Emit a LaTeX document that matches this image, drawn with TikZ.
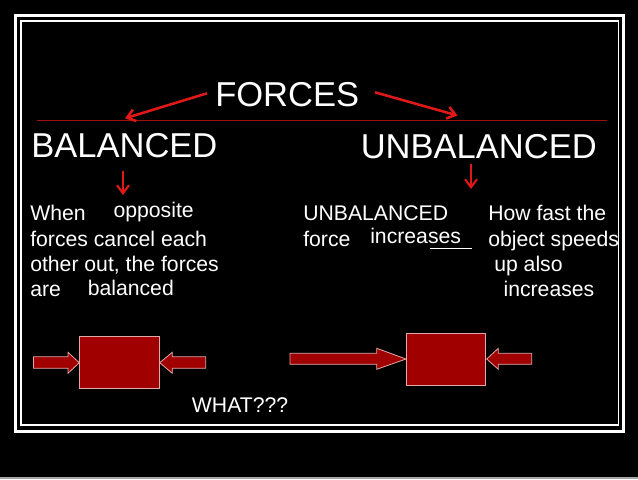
\documentclass[tikz,border=0pt]{standalone}
\usepackage{fontspec}
\setmainfont{Liberation Sans}
\usetikzlibrary{arrows.meta}
\definecolor{arrred}{HTML}{E01818}
\definecolor{linered}{HTML}{A01010}
\definecolor{blockred}{HTML}{A00000}
\definecolor{blockedge}{HTML}{E0A8A8}
\begin{document}
\begin{tikzpicture}[x=0.75pt,y=-0.75pt,
  bigtxt/.style={text=white,inner sep=0pt,anchor=base west,font=\fontsize{25.9}{30}\selectfont},
  smalltxt/.style={text=white,inner sep=0pt,anchor=base west,font=\fontsize{15.9}{19}\selectfont},
  redarrow/.style={draw=arrred,line width=1.9pt,-{Straight Barb[length=6pt,width=9pt]}},
  block/.style={fill=blockred,draw=blockedge,line width=0.6pt}]
\fill[black] (0,0) rectangle (638,479);
\useasboundingbox (0,0) rectangle (638,479);
\draw[gray!70,line width=1.2pt] (0,478) -- (638,478);
% frames
\draw[white,line width=2.4pt] (15.5,15.5) rectangle (623.5,431.5);
\draw[white,line width=1.4pt] (21,21) rectangle (618.5,425);
% red line
\draw[linered,line width=0.9pt] (37,120.7) -- (607,120.7);
% titles
\node[bigtxt] (forces) at (215,106) {FORCES};
\node[bigtxt] (bal) at (31,157.5) {BALANCED};
\node[bigtxt] (unbal) at (360.5,158.3) {UNBALANCED};
% arrows from FORCES
\coordinate (la0) at (207,93.3);
\coordinate (la1) at (125,118.3);
\coordinate (ra0) at (375,92.3);
\coordinate (ra1) at (457.5,115.5);
\draw[redarrow] (la0) -- (la1);
\draw[redarrow] (ra0) -- (ra1);
% small down arrows
\coordinate (da0) at (123,171);
\coordinate (da1) at (123,195);
\coordinate (db0) at (471,164);
\coordinate (db1) at (471,189);
\draw[redarrow,line width=1.6pt] (da0) -- (da1);
\draw[redarrow,line width=1.6pt] (db0) -- (db1);
% left texts
\node[smalltxt] (t1) at (30,220.7) {When};
\node[smalltxt] (t2) at (30,246.5) {forces cancel each};
\node[smalltxt] (t3) at (30,271.5) {other out, the forces};
\node[smalltxt] (t4) at (30,296.5) {are};
\node[smalltxt] (t5) at (113.3,217.3) {opposite};
\node[smalltxt] (t6) at (87.5,295) {balanced};
% middle texts
\node[smalltxt] (u1) at (303,220.7) {UNBALANCED};
\node[smalltxt] (u2) at (303,246) {force};
\node[smalltxt] (u3) at (370,243.3) {increases};
\draw[white,line width=0.8pt] (430,248.5) -- (471.5,248.5);
% right texts
\node[smalltxt] (h1) at (488,220.7) {How fast the};
\node[smalltxt] (h2) at (488,246) {object speeds};
\node[smalltxt] (h3) at (494,271.5) {up also};
\node[smalltxt] (h4) at (503.3,296) {increases};
\node[smalltxt] (what) at (191.7,412.7) {WHAT???};
% left block and arrows
\draw[block] (79.3,336.7) rectangle (159.7,388.3);
\draw[block] (33.5,356.8) -- (68,356.8) -- (68,352.3) -- (79.3,362.7) -- (68,373.3) -- (68,368.3) -- (33.5,368.3) -- cycle;
\draw[block] (205.7,356.8) -- (172.3,356.8) -- (172.3,352.3) -- (159.7,362.7) -- (172.3,373.3) -- (172.3,368.3) -- (205.7,368.3) -- cycle;
% right block and arrows
\draw[block] (406,333.3) rectangle (485,385);
\draw[block] (290,353.3) -- (376.7,353.3) -- (376.7,348.3) -- (406,359) -- (376.7,369.3) -- (376.7,364.3) -- (290,364.3) -- cycle;
\draw[block] (531.7,353.3) -- (498.3,353.3) -- (498.3,348.3) -- (486.7,359) -- (498.3,369.3) -- (498.3,364.3) -- (531.7,364.3) -- cycle;
\end{tikzpicture}
\end{document}
